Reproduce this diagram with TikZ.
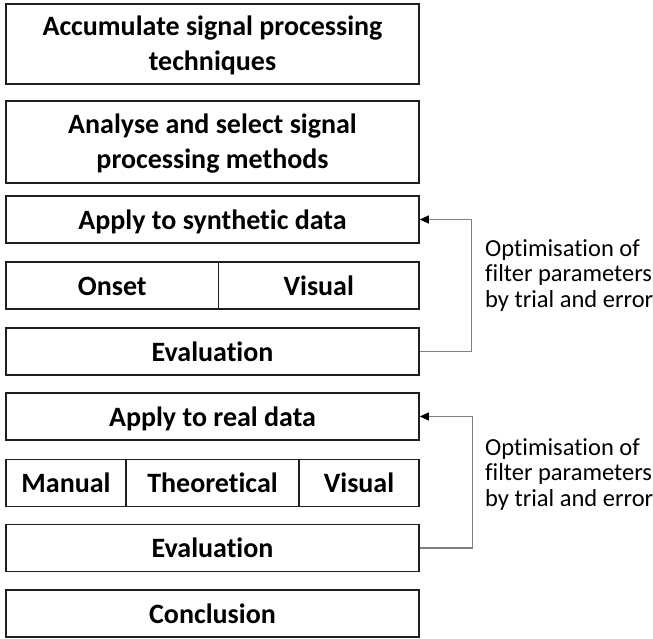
\documentclass[tikz,border=0pt]{standalone}
\usepackage{fontspec}
\setmainfont{Carlito}[Ligatures={NoCommon}]
\usetikzlibrary{arrows.meta}
\begin{document}
\begin{tikzpicture}[x=1pt,y=-1pt,
  box/.style={draw=black!88, line width=1.6pt, inner sep=0pt, minimum width=413pt, minimum height=47pt,
    font=\bfseries\fontsize{28}{35}\selectfont, align=center, text height=26pt, text depth=6.4pt},
  tallbox/.style={draw=black!88, line width=1.6pt, inner sep=0pt, minimum width=413pt,
    font=\bfseries\fontsize{28}{35}\selectfont, align=center, text height=56pt, text depth=2.6pt},
  loopline/.style={draw=black!50, line width=1.2pt, -{Triangle[length=9pt,width=8pt,color=black]}},
  note/.style={font=\fontsize{24.5}{25.5}\selectfont, align=left, inner sep=0pt, anchor=north west}]
\useasboundingbox (0,0) rectangle (653,639);
% top boxes
\node[tallbox, minimum height=80pt] (acc) at (212.5,44) {Accumulate signal processing\\techniques};
\node[tallbox, minimum height=82pt] (ana) at (212.5,142) {Analyse and select signal\\processing methods};
% synthetic data block
\node[box] (syn) at (212.5,219.5) {Apply to synthetic data};
\node[box, minimum width=212.5pt] (onset) at (112.25,285.5) {Onset};
\node[box, minimum width=200.5pt] (vis1) at (318.75,285.5) {Visual};
\node[box] (eval1) at (212.5,351.5) {Evaluation};
% real data block
\node[box] (real) at (212.5,416.5) {Apply to real data};
\node[box, minimum width=120pt] (man) at (66,483) {Manual};
\node[box, minimum width=173pt] (theo) at (212.5,483) {Theoretical};
\node[box, minimum width=120pt] (vis2) at (359,483) {Visual};
\node[box] (eval2) at (212.5,548) {Evaluation};
\node[box] (conc) at (212.5,613.5) {Conclusion};
% feedback loops
\draw[loopline] (eval1.east) -- ++(52pt,0) |- (syn.east);
\draw[loopline] (eval2.east) -- ++(53pt,0) |- (real.east);
\node[note] (opt1) at (485,239) {Optimisation of\\filter parameters\\by trial and error};
\node[note] (opt2) at (485,438) {Optimisation of\\filter parameters\\by trial and error};
\end{tikzpicture}
\end{document}
